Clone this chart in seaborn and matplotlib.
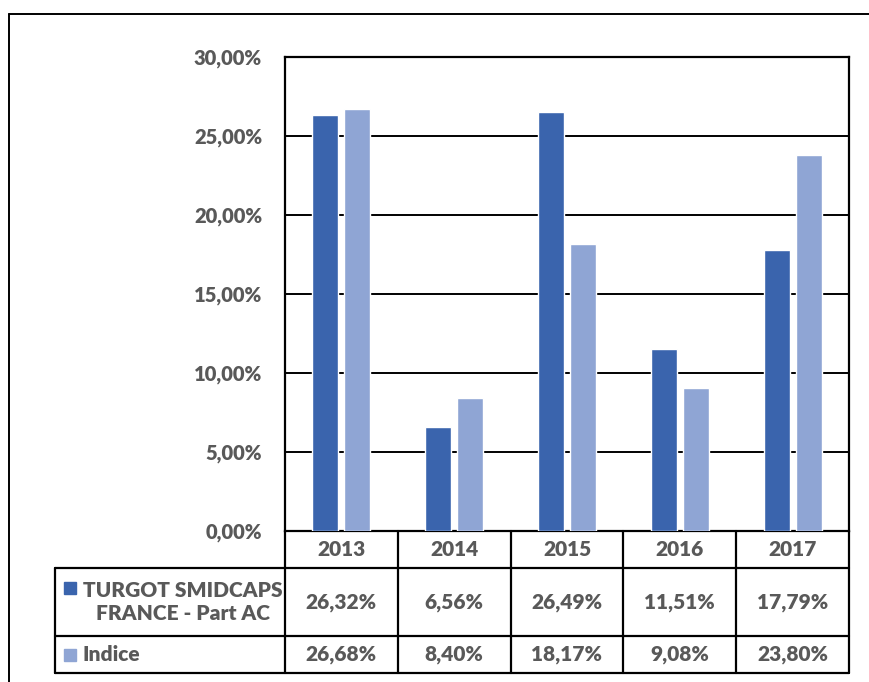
import matplotlib
matplotlib.use("Agg")
import matplotlib.pyplot as plt
import matplotlib.transforms as mtransforms
from matplotlib.lines import Line2D
import seaborn as sns
import pandas as pd

# Données (performances annuelles)
annees = ["2013", "2014", "2015", "2016", "2017"]
fonds = [26.32, 6.56, 26.49, 11.51, 17.79]
indice = [26.68, 8.40, 18.17, 9.08, 23.80]
series = ["TURGOT SMIDCAPS\nFRANCE - Part AC", "Indice"]
couleurs = ["#3A64AD", "#8FA5D4"]
yticks = [0, 5, 10, 15, 20, 25, 30]

gris = "#595959"
poids = "heavy"

sns.set_theme(style="white")
plt.rcParams["font.family"] = ["Lato", "DejaVu Sans"]

df = pd.DataFrame({
    "annee": annees * 2,
    "valeur": fonds + indice,
    "serie": [series[0]] * len(annees) + [series[1]] * len(annees),
})

fig = plt.figure(figsize=(8.7, 6.82), dpi=100)
ax = fig.add_axes([285 / 870, 1 - 531 / 682, 564 / 870, 474 / 682])

sns.barplot(data=df, x="annee", y="valeur", hue="serie", palette=couleurs,
            saturation=1, width=0.57, gap=0.19, legend=False, ax=ax, zorder=3)

ax.set_xlim(-0.5, len(annees) - 0.5)
ax.set_ylim(0, 30)
ax.set_yticks(yticks)
ax.set_yticklabels([f"{v:.2f}%".replace(".", ",") for v in yticks],
                   color=gris, fontsize=14.5, fontweight=poids)
ax.tick_params(axis="y", length=0, pad=16.5)
ax.set_xticks([])
ax.set_xlabel("")
ax.set_ylabel("")
ax.yaxis.grid(True, color="black", linewidth=1.4, zorder=1)
ax.set_axisbelow(True)
for s in ax.spines.values():
    s.set_visible(True)
    s.set_color("black")
    s.set_linewidth(1.6)

# Tableau de données sous le graphique (x en données, y en axes)
trans = mtransforms.blended_transform_factory(ax.transData, ax.transAxes)
px = 474.0
y_hdr = -37 / px
y_r1 = -105 / px
y_r2 = -142 / px
x_left = -0.5 - 230 / 112.8
lw = 1.6

def trait(xs, ys):
    ax.add_line(Line2D(xs, ys, transform=trans, color="black", lw=lw, clip_on=False))

for yy in [y_hdr, y_r1, y_r2]:
    trait([x_left, len(annees) - 0.5], [yy, yy])
for i in range(len(annees) + 1):
    trait([i - 0.5, i - 0.5], [0, y_r2])
trait([x_left, x_left], [y_hdr, y_r2])

for i, a in enumerate(annees):
    ax.text(i, y_hdr / 2, a, transform=trans, ha="center", va="center",
            color=gris, fontsize=15, fontweight=poids)
    ax.text(i, (y_hdr + y_r1) / 2, f"{fonds[i]:.2f}%".replace(".", ","), transform=trans,
            ha="center", va="center", color=gris, fontsize=15, fontweight=poids)
    ax.text(i, (y_r1 + y_r2) / 2, f"{indice[i]:.2f}%".replace(".", ","), transform=trans,
            ha="center", va="center", color=gris, fontsize=15, fontweight=poids)

x_carre = -0.5 - 215 / 112.8
x_txt = -0.5 - 202 / 112.8
rows_y = [(y_hdr + y_r1) / 2, (y_r1 + y_r2) / 2]
for k, (nom, c) in enumerate(zip(series, couleurs)):
    yc = rows_y[k] + (14 / px if k == 0 else 0)
    ax.plot([x_carre], [yc], marker="s", markersize=9, color=c, transform=trans,
            clip_on=False, linestyle="none")
    ax.text(x_txt, rows_y[k], nom, transform=trans, ha="left", va="center",
            multialignment="center", color=gris, fontsize=15, fontweight=poids,
            linespacing=1.25)

# Cadre extérieur (haut et gauche)
fig.add_artist(Line2D([9.5 / 870, 9.5 / 870], [0, 1 - 13.5 / 682], color="black", lw=1.4))
fig.add_artist(Line2D([9.5 / 870, 1], [1 - 13.5 / 682, 1 - 13.5 / 682], color="black", lw=1.4))

fig.savefig("out.png", dpi=100)
